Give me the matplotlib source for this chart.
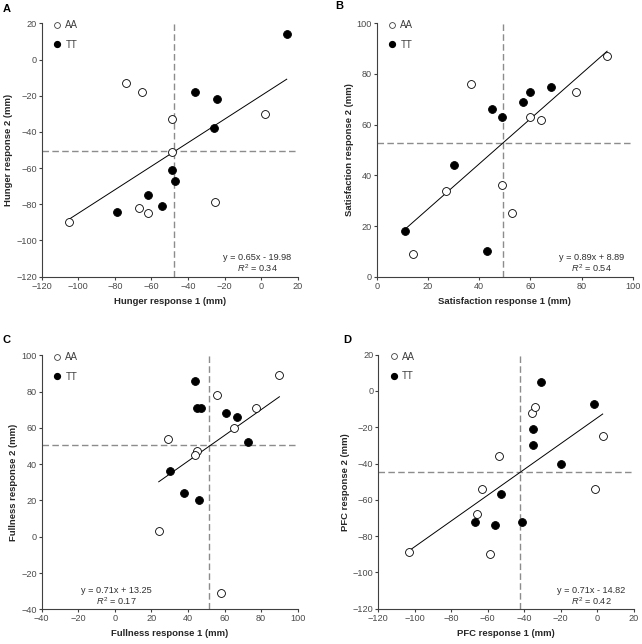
import numpy as np
import matplotlib
matplotlib.use("Agg")
import matplotlib.pyplot as plt
from matplotlib.lines import Line2D

plt.rcParams['font.family'] = ['Liberation Sans', 'DejaVu Sans']
plt.rcParams['mathtext.fontset'] = 'custom'
plt.rcParams['mathtext.rm'] = 'Liberation Sans'
plt.rcParams['mathtext.it'] = 'Liberation Sans:italic'

# ---------- Data ----------
# Panel A: Hunger
hunger_aa_x = [-105, -74, -65, -49, -49, 2, -67, -62, -25]
hunger_aa_y = [-90, -13, -18, -33, -51, -30, -82, -85, -79]
hunger_tt_x = [14, -36, -24, -26, -49, -47, -62, -54, -79]
hunger_tt_y = [14, -18, -22, -38, -61, -67, -75, -81, -84]

# Panel B: Satisfaction
sat_aa_x = [37, 27, 14, 49, 53, 60, 64, 78, 90]
sat_aa_y = [76, 34, 9, 36, 25, 63, 62, 73, 87]
sat_tt_x = [11, 30, 43, 45, 49, 57, 60, 68]
sat_tt_y = [18, 44, 10, 66, 63, 69, 73, 75]

# Panel C: Fullness
full_aa_x = [90, 56, 77, 65, 29, 45, 44, 24, 58]
full_aa_y = [89, 78, 71, 60, 54, 47, 45, 3, -31]
full_tt_x = [44, 45, 47, 61, 67, 73, 30, 38, 46]
full_tt_y = [86, 71, 71, 68, 66, 52, 36, 24, 20]

# Panel D: PFC
pfc_aa_x = [-103, -59, -66, -63, -54, -36, -34, 3, -1]
pfc_aa_y = [-89, -90, -68, -54, -36, -12, -9, -25, -54]
pfc_tt_x = [-31, -2, -35, -35, -20, -53, -67, -56, -41]
pfc_tt_y = [5, -7, -21, -30, -40, -57, -72, -74, -72]

panel_letters = ['A', 'B', 'C', 'D']
x_labels = ['Hunger response 1 (mm)', 'Satisfaction response 1 (mm)',
            'Fullness response 1 (mm)', 'PFC response 1 (mm)']
y_labels = ['Hunger response 2 (mm)', 'Satisfaction response 2 (mm)',
            'Fullness response 2 (mm)', 'PFC response 2 (mm)']
slopes = [0.65, 0.89, 0.71, 0.71]
intercepts = [-19.98, 8.89, 13.25, -14.82]
r_squared = [0.34, 0.54, 0.17, 0.42]
mean_x = [-47.8, 49.3, 51.7, -42.1]
mean_y = [-50.7, 52.9, 50.6, -44.7]
x_limits = [(-120, 20), (0, 100), (-40, 100), (-120, 20)]
y_limits = [(-120, 20), (0, 100), (-40, 100), (-120, 20)]
tick_step = 20

aa_x = [hunger_aa_x, sat_aa_x, full_aa_x, pfc_aa_x]
aa_y = [hunger_aa_y, sat_aa_y, full_aa_y, pfc_aa_y]
tt_x = [hunger_tt_x, sat_tt_x, full_tt_x, pfc_tt_x]
tt_y = [hunger_tt_y, sat_tt_y, full_tt_y, pfc_tt_y]

# ---------- Layout ----------
W, H = 642, 644
fig = plt.figure(figsize=(W / 100, H / 100), dpi=100)
# axes boxes in pixels: left, top, right, bottom
boxes = [(41.7, 23.3, 297.7, 276.7), (376.7, 23.3, 632.7, 276.7),
         (41.7, 355.3, 297.7, 609.3), (378.3, 354.7, 633.7, 608.7)]
letter_pos = [(3, 9), (335, 6), (3, 340), (343, 340)]
eq_pos = [(0.843, 0.0555), (0.840, 0.0545), (0.293, 0.053), (0.835, 0.050)]

axis_col = '#404040'
tick_col = '#4a4a4a'
dash_col = '#8c8c8c'

for i in range(4):
    l, t, r, b = boxes[i]
    ax = fig.add_axes([l / W, 1 - b / H, (r - l) / W, (b - t) / H])
    ax.set_xlim(*x_limits[i])
    ax.set_ylim(*y_limits[i])
    ax.set_xticks(np.arange(x_limits[i][0], x_limits[i][1] + 1, tick_step))
    ax.set_yticks(np.arange(y_limits[i][0], y_limits[i][1] + 1, tick_step))
    for s in ['top', 'right']:
        ax.spines[s].set_visible(False)
    for s in ['left', 'bottom']:
        ax.spines[s].set_color(axis_col)
        ax.spines[s].set_linewidth(0.8)
    ax.tick_params(direction='out', length=2, width=0.8, color=axis_col,
                   labelsize=6.6, labelcolor=tick_col, pad=1.5)

    # mean dashed lines
    ax.axvline(mean_x[i], color=dash_col, lw=1.0, ls=(0, (4.7, 2.4)), zorder=1)
    ax.axhline(mean_y[i], color=dash_col, lw=1.0, ls=(0, (4.7, 2.4)), zorder=1)

    # regression line over range of data
    allx = np.array(aa_x[i] + tt_x[i], dtype=float)
    xs = np.array([allx.min(), allx.max()])
    ax.plot(xs, slopes[i] * xs + intercepts[i], color='black', lw=0.7, zorder=2)

    ax.scatter(aa_x[i], aa_y[i], s=32, facecolor='white', edgecolor='black',
               linewidth=0.6, zorder=3)
    ax.scatter(tt_x[i], tt_y[i], s=32, facecolor='black', edgecolor='black',
               linewidth=0.6, zorder=3)

    sign = '+' if intercepts[i] >= 0 else '-'
    eq = f"y = {slopes[i]:.2f}x {sign} {abs(intercepts[i]):.2f}"
    cx, cy = eq_pos[i]
    ax.text(cx, cy + 0.021, eq, transform=ax.transAxes,
            ha='center', va='center', fontsize=6.6, color='#303030')
    ax.text(cx, cy - 0.021, r"$R^2$" + f" = {r_squared[i]:.2f}",
            transform=ax.transAxes, ha='center', va='center', fontsize=6.6,
            color='#303030')

    ax.set_xlabel(x_labels[i], fontsize=6.8, fontweight='bold', color='#262626',
                  labelpad=4.5)
    ax.set_ylabel(y_labels[i], fontsize=6.8, fontweight='bold', color='#262626',
                  labelpad=2)

    handles = [Line2D([], [], ls='none', marker='o', markersize=4.2,
                      markerfacecolor='white', markeredgecolor='#404040',
                      markeredgewidth=0.6, label='AA'),
               Line2D([], [], ls='none', marker='o', markersize=4.2,
                      markerfacecolor='black', markeredgecolor='black',
                      label='TT')]
    leg = ax.legend(handles=handles, loc='upper left', frameon=False,
                    bbox_to_anchor=(0.03, 1.027), borderaxespad=0,
                    handlelength=0.8, handletextpad=0.45, labelspacing=0.95,
                    fontsize=7)
    for txt in leg.get_texts():
        txt.set_color('#404040')

    fig.text(letter_pos[i][0] / W, 1 - letter_pos[i][1] / H, panel_letters[i],
             fontsize=8, fontweight='bold', ha='left', va='center')

fig.savefig('out.png', dpi=100, facecolor='white')
